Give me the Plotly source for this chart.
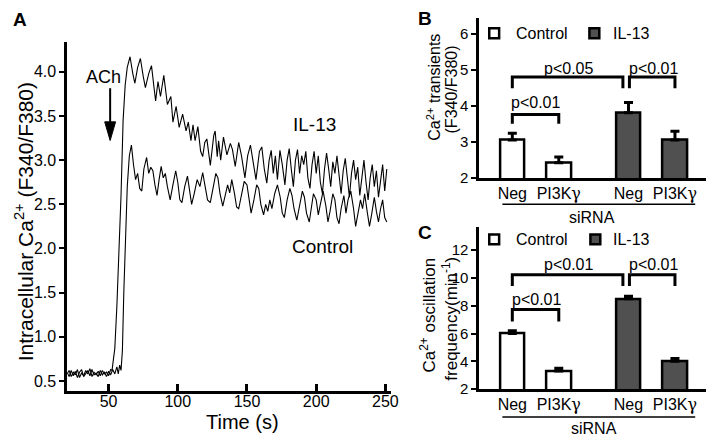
import plotly.graph_objects as go

# ---------------- data ----------------
# Panel A: intracellular Ca2+ ratio traces (time s, F340/F380)
il13_trace = [
    (20, 0.58), (21.5, 0.62), (23, 0.55), (24.5, 0.60), (26, 0.57), (27.5, 0.63), (29, 0.54),
    (30.5, 0.59), (32, 0.56), (33.5, 0.62), (35, 0.58), (36.5, 0.64), (38, 0.55), (39.5, 0.60),
    (41, 0.57), (42.5, 0.61), (44, 0.56), (45.5, 0.62), (47, 0.58), (48.5, 0.60), (50, 0.56),
    (51.5, 0.63), (52.5, 0.62), (53.5, 0.75), (54.5, 0.87), (56, 1.35), (57.5, 1.95), (59, 2.6),
    (60.5, 3.45), (62, 3.85), (63.5, 4.05), (65.5, 4.17), (67.5, 3.98), (69, 3.87), (71, 4.05),
    (73, 4.15), (75, 3.95), (76.6, 3.82), (79, 3.98), (81, 4.07), (83, 3.80), (84, 3.67),
    (85.7, 3.89), (87.5, 3.72), (89.9, 3.96), (92.5, 3.63), (95, 3.72), (96.5, 3.43), (98.8, 3.61),
    (101, 3.37), (103.5, 3.52), (106, 3.33), (107.6, 3.43), (109.5, 3.22), (111, 3.40),
    (112.5, 3.22), (114.5, 3.38), (116.5, 3.10), (118, 3.04), (119.5, 3.20), (121, 3.24),
    (123.5, 2.94), (126, 3.28), (127, 3.33), (128.5, 3.04), (129.5, 3.22), (131, 3.00),
    (133, 3.26), (135.5, 3.06), (138, 3.19), (139.5, 3.12), (141.5, 2.93), (144, 3.20),
    (146, 3.05), (148.5, 2.80), (150.5, 3.05), (152.5, 3.17), (154.5, 2.95), (156.5, 2.78),
    (159, 3.10), (160.7, 3.15), (162.5, 2.90), (164.3, 2.74), (166, 3.00), (167.5, 3.11),
    (169, 2.85), (170.5, 3.05), (172, 2.78), (173.8, 3.11), (175.5, 2.95), (177.4, 2.72),
    (179, 3.00), (180.5, 3.13), (182, 2.90), (183.5, 2.70), (185, 3.00), (186.5, 3.12),
    (188, 2.85), (189.5, 3.05), (191, 2.95), (192.5, 3.10), (194, 2.80), (195.5, 2.68),
    (197, 2.95), (198.5, 3.10), (200, 2.85), (201.5, 3.05), (203, 2.75), (204.5, 2.62),
    (206, 2.90), (207.5, 3.08), (209, 2.90), (210.5, 2.70), (212, 2.98), (213.5, 2.85),
    (215, 3.05), (216.5, 2.80), (218, 2.62), (219.5, 2.88), (221, 3.02), (222.5, 2.80),
    (224, 2.58), (225.5, 2.85), (227, 3.00), (228.5, 2.78), (230, 2.92), (231.5, 2.60),
    (233, 2.82), (234.5, 3.00), (236, 2.75), (237.5, 2.55), (239, 2.80), (240.5, 2.95),
    (242, 2.70), (243.5, 2.88), (245, 2.58), (246.5, 2.75), (248, 2.95), (249.5, 2.65),
    (251, 2.90),
]
control_trace = [
    (20, 0.60), (21.5, 0.55), (23, 0.62), (24.5, 0.56), (26, 0.61), (27.5, 0.54), (29, 0.60),
    (30.5, 0.63), (32, 0.55), (33.5, 0.58), (35, 0.62), (36.5, 0.56), (38, 0.63), (39.5, 0.57),
    (41, 0.59), (42.5, 0.55), (44, 0.62), (45.5, 0.57), (47, 0.60), (48.5, 0.55), (50, 0.61),
    (51.5, 0.57), (53, 0.63), (54.5, 0.58), (56, 0.66), (57, 0.58), (58, 0.68), (59, 0.62),
    (60, 0.85), (61, 1.5), (62, 2.1), (63.5, 2.7), (65, 3.05), (66.5, 3.17), (68, 2.95),
    (69.5, 2.78), (71, 2.85), (72.5, 2.68), (74, 2.65), (75.5, 2.90), (77.5, 3.03), (79, 2.85),
    (80.5, 2.92), (82, 2.88), (83.5, 2.72), (85, 2.60), (86.5, 2.78), (88, 2.93), (89.5, 2.80),
    (91, 2.85), (92.5, 2.70), (94.5, 2.55), (96.5, 2.72), (98.5, 2.88), (100, 2.75),
    (101.5, 2.55), (103, 2.52), (105, 2.70), (107, 2.82), (108.5, 2.65), (110, 2.50),
    (112, 2.63), (114, 2.78), (116, 2.70), (118, 2.86), (120, 2.68), (121.5, 2.55),
    (123.5, 2.52), (125.5, 2.70), (127.5, 2.85), (129, 2.80), (130.5, 2.62), (132.5, 2.48),
    (134, 2.58), (136, 2.72), (137.5, 2.63), (139, 2.78), (141, 2.62), (142.5, 2.47),
    (144, 2.45), (146, 2.60), (148, 2.76), (150, 2.72), (151.5, 2.55), (153, 2.40),
    (155, 2.55), (157, 2.72), (158.5, 2.68), (160, 2.50), (162, 2.38), (163.5, 2.50),
    (165, 2.42), (166.5, 2.55), (168, 2.45), (170, 2.62), (172, 2.72), (174, 2.58),
    (175.5, 2.40), (177, 2.35), (179, 2.55), (181, 2.68), (182.5, 2.60), (184, 2.45),
    (186, 2.32), (188, 2.50), (190, 2.65), (191.5, 2.58), (193, 2.40), (195, 2.30),
    (196.5, 2.45), (198, 2.62), (200, 2.55), (201.5, 2.38), (203, 2.50), (205, 2.65),
    (207, 2.48), (208.5, 2.30), (210, 2.42), (212, 2.62), (213.5, 2.55), (215, 2.35),
    (216.5, 2.28), (218, 2.45), (220, 2.60), (221.5, 2.40), (223, 2.55), (225, 2.65),
    (227, 2.45), (228.5, 2.25), (230, 2.38), (232, 2.55), (233.5, 2.45), (235, 2.62),
    (237, 2.40), (238.5, 2.25), (240, 2.38), (242, 2.58), (243.5, 2.42), (245, 2.30),
    (246.5, 2.45), (248, 2.55), (249.5, 2.35), (251, 2.30),
]
time_ticks = [50, 100, 150, 200, 250]
ratio_ticks = [0.5, 1.0, 1.5, 2.0, 2.5, 3.0, 3.5, 4.0]

# Panels B and C
sirna_labels = ["Neg", "PI3K<span style='font-family:DejaVu Serif'>γ</span>"]
group_names = ["Control", "IL-13"]
transient_control = [3.06, 2.43]
transient_control_err = [0.19, 0.16]
transient_il13 = [3.82, 3.06]
transient_il13_err = [0.28, 0.24]
freq_control = [6.0, 3.3]
freq_control_err = [0.2, 0.2]
freq_il13 = [8.5, 4.0]
freq_il13_err = [0.18, 0.2]
transient_ticks = [2, 3, 4, 5, 6]
freq_ticks = [2, 4, 6, 8, 10, 12]

# ---------------- layout helpers ----------------
W, H = 714, 436
FONT = "Arial, Liberation Sans, sans-serif"
GRAY = "#505050"
slot_ctrl = [0, 1]
slot_il13 = [2.5, 3.5]
bar_w = 0.53


def fx(x):
    return x / W


def fy(y):
    return 1 - y / H


fig = go.Figure()

# ---- Panel A traces
fig.add_trace(go.Scatter(
    x=[p[0] for p in il13_trace], y=[p[1] for p in il13_trace], mode="lines",
    line=dict(color="black", width=1.1), xaxis="x", yaxis="y",
    showlegend=False, hoverinfo="skip"))
fig.add_trace(go.Scatter(
    x=[p[0] for p in control_trace], y=[p[1] for p in control_trace], mode="lines",
    line=dict(color="black", width=1.1), xaxis="x", yaxis="y",
    showlegend=False, hoverinfo="skip"))


def bars(xs, ys, errs, color, xa, ya):
    return go.Bar(
        x=xs, y=ys, width=bar_w, xaxis=xa, yaxis=ya, showlegend=False,
        marker=dict(color=color, line=dict(color="black", width=2.5)),
        error_y=dict(type="data", symmetric=False, array=errs,
                     arrayminus=[0] * len(errs), color="black",
                     thickness=3, width=4.5),
        hoverinfo="skip")


fig.add_trace(bars(slot_ctrl, transient_control, transient_control_err, "white", "x2", "y2"))
fig.add_trace(bars(slot_il13, transient_il13, transient_il13_err, GRAY, "x2", "y2"))
fig.add_trace(bars(slot_ctrl, freq_control, freq_control_err, "white", "x3", "y3"))
fig.add_trace(bars(slot_il13, freq_il13, freq_il13_err, GRAY, "x3", "y3"))

axis_common = dict(showline=True, linewidth=3, linecolor="black", showgrid=False,
                   zeroline=False)


def tf(size):
    return dict(family=FONT, size=size, color="black")


cat_slots = slot_ctrl + slot_il13
cat_text = sirna_labels + sirna_labels

fig.update_layout(
    width=W, height=H, margin=dict(l=0, r=0, t=0, b=0),
    paper_bgcolor="white", plot_bgcolor="rgba(0,0,0,0)",
    font=dict(family=FONT, color="black"),
    bargap=0,
    xaxis=dict(domain=[fx(60), fx(387)], range=[20.2, 253.8], anchor="y",
               ticks="inside", ticklen=7, tickwidth=3, tickcolor="black",
               tickvals=time_ticks, tickfont=tf(16), **axis_common),
    yaxis=dict(domain=[fy(390), fy(35)], range=[0.389, 4.333], anchor="x",
               ticks="outside", ticklen=5, tickwidth=2, tickcolor="black",
               tickvals=ratio_ticks, ticktext=[f"{v:.1f}" for v in ratio_ticks],
               tickfont=tf(16), **axis_common),
    xaxis2=dict(domain=[fx(476.7), fx(710)], range=[-0.709, 4.255], anchor="y2",
                ticks="", tickvals=cat_slots, ticktext=cat_text,
                tickfont=tf(16), **axis_common),
    yaxis2=dict(domain=[fy(173.3), fy(10)], range=[2, 6.455], anchor="x2",
                ticks="outside", ticklen=5, tickwidth=2, tickcolor="black",
                tickvals=transient_ticks, tickfont=tf(15), **axis_common),
    xaxis3=dict(domain=[fx(476.7), fx(710)], range=[-0.709, 4.255], anchor="y3",
                ticks="", tickvals=cat_slots, ticktext=cat_text,
                tickfont=tf(16), **axis_common),
    yaxis3=dict(domain=[fy(388.3), fy(223.3)], range=[2, 13.64], anchor="x3",
                ticks="outside", ticklen=5, tickwidth=2, tickcolor="black",
                tickvals=freq_ticks, tickfont=tf(15), **axis_common),
)

# pull x tick labels a little closer to the axis lines
try:
    fig.update_layout(xaxis_ticklabelstandoff=-6,
                      xaxis2_ticklabelstandoff=-1,
                      xaxis3_ticklabelstandoff=-1)
except Exception:
    pass

annotations = []


def ann(text, x, y, size, angle=0, bold=False, xanchor="center"):
    annotations.append(dict(
        text=f"<b>{text}</b>" if bold else text, x=fx(x), y=fy(y),
        xref="paper", yref="paper", showarrow=False, textangle=angle,
        xanchor=xanchor, yanchor="middle",
        font=dict(family=FONT, size=size, color="black")))


def dann(text, x, y, xa, ya, size=16):
    annotations.append(dict(
        text=text, x=x, y=y, xref=xa, yref=ya, showarrow=False,
        xanchor="center", yanchor="middle",
        font=dict(family=FONT, size=size, color="black")))


# panel letters
ann("A", 11.7, 12, 19, bold=True)
ann("B", 421.7, 11, 19, bold=True)
ann("C", 421.7, 229, 19, bold=True)

# panel A text
ann("Intracellular Ca<sup>2+</sup> (F340/F380)", 16, 217.5, 21, angle=-90)
ann("Time (s)", 236.7, 421.7, 20)
ann("ACh", 97, 70, 18)
ann(group_names[1], 310, 118.5, 19)
ann(group_names[0], 318, 242.5, 19)

# panel B / C axis titles
ann("Ca<sup>2+</sup> transients", 430, 81, 16, angle=-90)
ann("(F340/F380)", 448, 83, 16, angle=-90)
ann("Ca<sup>2+</sup> oscillation", 425, 313, 17, angle=-90)
ann("frequency(min<sup>-1</sup>)", 447, 316.5, 17, angle=-90)

# siRNA labels
ann("siRNA", 590.8, 213.5, 16)
ann("siRNA", 593, 428.3, 16)

# legends
for ly in (25.7, 235.7):
    ann(group_names[0], 511.7, ly, 16, xanchor="left")
    ann(group_names[1], 610, ly, 16, xanchor="left")

# p-values
dann("p<0.01", 0.5, 4.09, "x2", "y2")
dann("p<0.05", 1.21, 5.05, "x2", "y2")
dann("p<0.01", 3.03, 5.05, "x2", "y2")
dann("p<0.01", 0.51, 8.46, "x3", "y3")
dann("p<0.01", 1.21, 10.93, "x3", "y3")
dann("p<0.01", 3.04, 10.93, "x3", "y3")

shapes = []


def pline(x0, y0, x1, y1, w=2):
    shapes.append(dict(type="line", xref="paper", yref="paper",
                       x0=fx(x0), y0=fy(y0), x1=fx(x1), y1=fy(y1),
                       line=dict(color="black", width=w)))


def bracket(xa, ya, xl, xr, ylow, yhigh):
    shapes.append(dict(type="path", xref=xa, yref=ya,
                       path=f"M {xl},{ylow} L {xl},{yhigh} L {xr},{yhigh} L {xr},{ylow}",
                       line=dict(color="black", width=3)))


# ACh arrow
pline(103.3, 81.7, 103.3, 120, 2)
shapes.append(dict(type="path", xref="paper", yref="paper",
                   path=f"M {fx(97.8)},{fy(116)} L {fx(108.8)},{fy(116)} L {fx(103.3)},{fy(135)} Z",
                   fillcolor="black", line=dict(color="black", width=1)))

# underlines for siRNA groups
pline(500, 200, 695, 200, 1.5)
pline(500, 416.7, 695, 416.7, 1.5)

# legend squares
for (cx, cy, col) in [(491.7, 25.7, "white"), (593, 25.7, GRAY),
                      (491.7, 235.7, "white"), (594, 235.7, GRAY)]:
    shapes.append(dict(type="rect", xref="paper", yref="paper",
                       x0=fx(cx - 5), x1=fx(cx + 5), y0=fy(cy + 5), y1=fy(cy - 5),
                       fillcolor=col, line=dict(color="black", width=2.5)))

# significance brackets
bracket("x2", "y2", 0, 1, 3.51, 3.77)
bracket("x2", "y2", 0, 2.38, 4.50, 4.81)
bracket("x2", "y2", 2.52, 3.5, 4.50, 4.81)
bracket("x3", "y3", 0, 1, 6.87, 7.72)
bracket("x3", "y3", 0, 2.38, 9.41, 10.23)
bracket("x3", "y3", 2.52, 3.5, 9.41, 10.23)

fig.update_layout(annotations=annotations, shapes=shapes)

fig.write_html("out.html")
